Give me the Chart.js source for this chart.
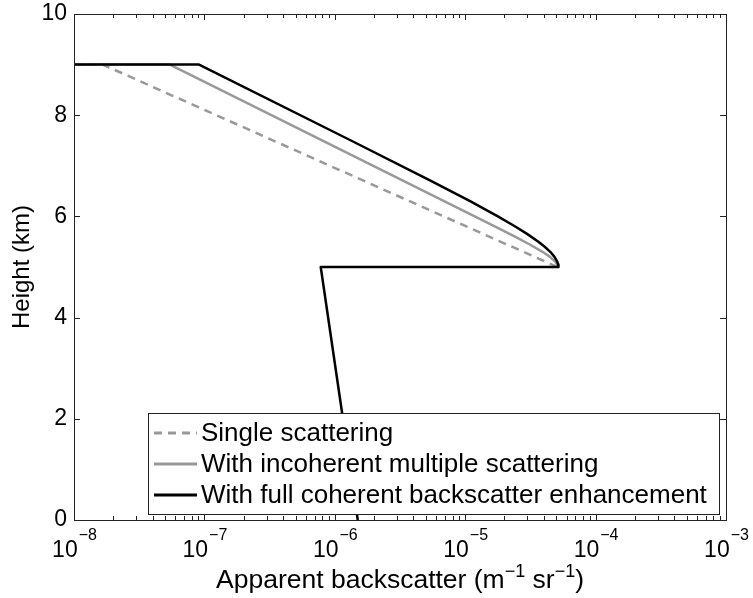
<!DOCTYPE html>
<html><head><meta charset="utf-8">
<script src="https://cdn.jsdelivr.net/npm/chart.js@4/dist/chart.umd.min.js"></script>
<style>html,body{margin:0;padding:0;background:#fff}#wrap{width:753px;height:598px}</style>
</head><body><div id="wrap"><canvas id="c" width="753" height="598"></canvas></div>
<script>
// ---- data ----
const seriesNames = ['Single scattering', 'With incoherent multiple scattering', 'With full coherent backscatter enhancement'];
const xTickExponents = [-8, -7, -6, -5, -4, -3];
const yTickValues = [0, 2, 4, 6, 8, 10];

const singleHeight = [9, 9, 5];
const singleBeta   = [1e-8, 1.66e-8, 5.1e-5];

const incoherentHeight = [9, 9, 6.2, 5.8, 5.6, 5.45, 5.3, 5.2, 5.1, 5.05, 5.0];
const incoherentBeta   = [1e-8, 5.44e-8, 8.3e-6, 1.70e-5, 2.41e-5, 3.10e-5, 3.92e-5, 4.47e-5, 4.92e-5, 5.07e-5, 5.13e-5];

const fullHeight = [9, 9, 7.5, 6.7, 6.3, 6.0, 5.8, 5.65, 5.5, 5.4, 5.3, 5.2, 5.1, 5.05, 5.0, 5.0, 0];
const fullBeta   = [1e-8, 9.1e-8, 1.33e-6, 5.46e-6, 1.09e-5, 1.78e-5, 2.42e-5, 3.00e-5, 3.64e-5, 4.07e-5, 4.49e-5, 4.84e-5, 5.09e-5, 5.16e-5, 5.19e-5, 7.8e-7, 1.5e-6];

const toPts = (xs, ys) => xs.map((x, i) => ({x: x, y: ys[i]}));
const FONT = "'Liberation Sans', Arial, sans-serif";
const AXIS = '#222222';

const boxPlugin = {
  id: 'matlabBox',
  afterDraw(chart) {
    const ctx = chart.ctx, a = chart.chartArea;
    const xs = chart.scales.x, ys = chart.scales.y;
    ctx.save();
    ctx.strokeStyle = AXIS; ctx.lineWidth = 1;
    ctx.strokeRect(Math.round(a.left) + 0.5, Math.round(a.top) + 0.5, Math.round(a.right - a.left), Math.round(a.bottom - a.top));
    ctx.beginPath();
    for (let i = 0; i < xTickExponents.length; i++) {
      const e = xTickExponents[i];
      for (let m = 1; m <= 9; m++) {
        if (i === xTickExponents.length - 1 && m > 1) break;
        const v = m * Math.pow(10, e);
        const px = Math.round(xs.getPixelForValue(v)) + 0.5;
        const len = m === 1 ? 6 : 4;
        ctx.moveTo(px, a.bottom); ctx.lineTo(px, a.bottom - len);
        ctx.moveTo(px, a.top); ctx.lineTo(px, a.top + len);
      }
    }
    yTickValues.forEach(v => {
      const py = Math.round(ys.getPixelForValue(v)) + 0.5;
      ctx.moveTo(a.left, py); ctx.lineTo(a.left + 6, py);
      ctx.moveTo(a.right, py); ctx.lineTo(a.right - 6, py);
    });
    ctx.stroke();

    ctx.fillStyle = '#000';
    ctx.textBaseline = 'alphabetic';
    ctx.textAlign = 'left';
    xTickExponents.forEach(e => {
      const px = xs.getPixelForValue(Math.pow(10, e));
      ctx.font = '23px ' + FONT;
      const wb = ctx.measureText('10').width;
      ctx.font = '16px ' + FONT;
      const es = '\u2212' + Math.abs(e);
      const we = ctx.measureText(es).width;
      const x0 = px - (wb + we) / 2;
      ctx.font = '23px ' + FONT;
      ctx.fillText('10', x0, 557);
      ctx.font = '16px ' + FONT;
      ctx.fillText(es, x0 + wb + 1, 540);
    });

    const parts = [
      {t: 'Apparent backscatter (m', sup: false},
      {t: '\u22121', sup: true},
      {t: ' sr', sup: false},
      {t: '\u22121', sup: true},
      {t: ')', sup: false}
    ];
    let total = 0;
    parts.forEach(p => { ctx.font = (p.sup ? '18px ' : '26.5px ') + FONT; p.w = ctx.measureText(p.t).width; total += p.w; });
    let cx = (a.left + a.right) / 2 - total / 2;
    parts.forEach(p => {
      ctx.font = (p.sup ? '18px ' : '26.5px ') + FONT;
      ctx.fillText(p.t, cx, p.sup ? 577 : 588);
      cx += p.w;
    });

    const lx = 148.5, ly = 413.5, lw = 571, lh = 101;
    ctx.fillStyle = '#fff';
    ctx.fillRect(lx, ly, lw, lh);
    ctx.strokeStyle = AXIS; ctx.lineWidth = 1;
    ctx.strokeRect(lx, ly, lw, lh);
    const rows = [433, 464, 495];
    chart.data.datasets.forEach((ds, i) => {
      const y = rows[i];
      ctx.save();
      ctx.strokeStyle = ds.borderColor; ctx.lineWidth = 3;
      ctx.setLineDash(ds.borderDash || []);
      ctx.beginPath(); ctx.moveTo(154, y); ctx.lineTo(197, y); ctx.stroke();
      ctx.restore();
      ctx.fillStyle = '#000';
      ctx.font = '26px ' + FONT;
      ctx.textBaseline = 'middle';
      ctx.fillText(ds.label, 201, y + 1);
    });
    ctx.restore();
  }
};

new Chart(document.getElementById('c'), {
  type: 'line',
  data: {
    datasets: [
      {label: seriesNames[0], data: toPts(singleBeta, singleHeight), borderColor: '#999999', borderWidth: 2.5, borderDash: [8, 6], pointRadius: 0, fill: false, order: 2},
      {label: seriesNames[1], data: toPts(incoherentBeta, incoherentHeight), borderColor: '#999999', borderWidth: 2.5, pointRadius: 0, fill: false, order: 1},
      {label: seriesNames[2], data: toPts(fullBeta, fullHeight), borderColor: '#000000', borderWidth: 2.5, pointRadius: 0, fill: false, order: 0}
    ]
  },
  options: {
    responsive: false,
    devicePixelRatio: 1,
    animation: false,
    layout: {padding: {top: 14, right: 27, left: 0, bottom: 0}},
    plugins: {legend: {display: false}, tooltip: {enabled: false}},
    elements: {line: {tension: 0, borderJoinStyle: 'round'}},
    scales: {
      x: {
        type: 'logarithmic', min: 1e-8, max: 1e-3, position: 'bottom',
        ticks: {display: false},
        grid: {display: false},
        border: {display: false},
        afterFit: s => { s.height = 78; s.paddingLeft = 0; s.paddingRight = 0; }
      },
      y: {
        type: 'linear', min: 0, max: 10,
        afterBuildTicks: s => { s.ticks = yTickValues.map(v => ({value: v})); },
        ticks: {font: {size: 23, family: FONT}, color: '#000', padding: 7},
        grid: {display: false, drawTicks: false},
        border: {display: false},
        title: {display: true, text: 'Height (km)', color: '#000', font: {size: 24, family: FONT}, padding: {top: 8, bottom: 0}},
        afterFit: s => { s.width = 74; s.paddingTop = 0; s.paddingBottom = 0; }
      }
    }
  },
  plugins: [boxPlugin]
});
</script>
</body></html>
